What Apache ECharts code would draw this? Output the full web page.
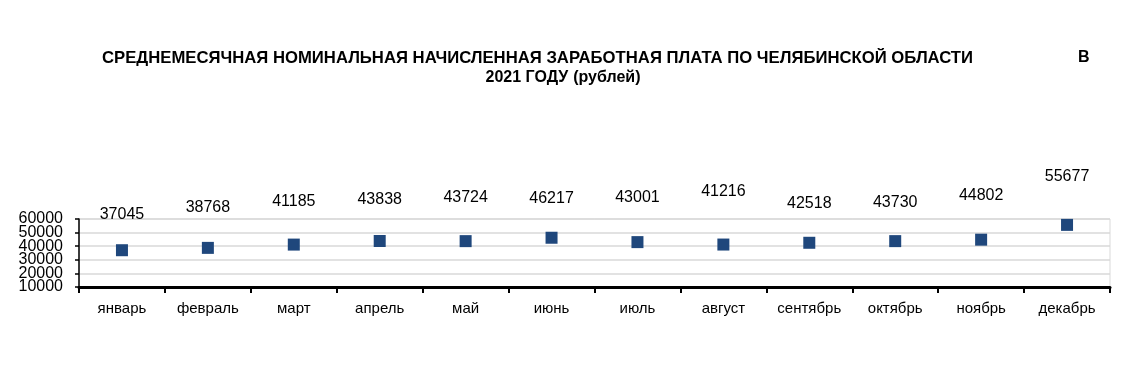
<!DOCTYPE html>
<html>
<head>
<meta charset="utf-8">
<script src="https://cdn.jsdelivr.net/npm/echarts@6/dist/echarts.min.js"></script>
<style>html,body{margin:0;padding:0;background:#fff}#c{width:1126px;height:376px}</style>
</head>
<body>
<div id="c"></div>
<script>
const months = ['январь','февраль','март','апрель','май','июнь','июль','август','сентябрь','октябрь','ноябрь','декабрь'];
const salary = [37045, 38768, 41185, 43838, 43724, 46217, 43001, 41216, 42518, 43730, 44802, 55677];
const yTicksA = [10000, 30000, 50000];
const yTicksB = [20000, 40000, 60000];
// label vertical offsets (style only, px above each marker centre)
const labelLift = [36, 40, 43, 41, 44, 39, 45, 53, 39, 39, 44, 48];

const font = 'Liberation Sans, Arial, sans-serif';
const yLabel = list => ({fontFamily: font, fontSize: 16, color: '#000', margin: 16,
  showMinLabel: true, showMaxLabel: true, hideOverlap: false,
  formatter: v => list.includes(v) ? String(v) : ''});
const chart = echarts.init(document.getElementById('c'), null, {renderer: 'canvas'});
chart.setOption({
  animation: false,
  backgroundColor: '#fff',
  title: [
    {text: 'СРЕДНЕМЕСЯЧНАЯ НОМИНАЛЬНАЯ НАЧИСЛЕННАЯ ЗАРАБОТНАЯ ПЛАТА ПО ЧЕЛЯБИНСКОЙ ОБЛАСТИ',
     left: 97, top: 45, textStyle: {fontFamily: font, fontSize: 16.7, fontWeight: 'bold', color: '#000'}},
    {text: 'В', left: 1073, top: 45, textStyle: {fontFamily: font, fontSize: 16, fontWeight: 'bold', color: '#000'}},
    {text: '{b|2021 ГОДУ} {n|(рублей)}', left: 'center', top: 64,
     textStyle: {rich: {
       b: {fontFamily: font, fontSize: 16, fontWeight: 'bold', color: '#000'},
       n: {fontFamily: font, fontSize: 16, color: '#000'}
     }}}
  ],
  grid: {left: 79, right: 16, top: 219, height: 68, show: true, borderColor: '#d9d9d9', borderWidth: 1},
  xAxis: {
    type: 'category', data: months, boundaryGap: true,
    axisLine: {lineStyle: {color: '#000', width: 3}},
    axisTick: {show: true, length: 6, lineStyle: {color: '#000', width: 2}},
    axisLabel: {fontFamily: font, fontSize: 15, color: '#000', margin: 14}
  },
  yAxis: [{
    type: 'value', min: 10000, max: 60000, interval: 10000, position: 'left',
    axisLine: {show: true, lineStyle: {color: '#000', width: 1.5}},
    axisTick: {show: true, length: 4, lineStyle: {color: '#000', width: 1.5}},
    axisLabel: yLabel(yTicksA),
    splitLine: {show: true, lineStyle: {color: '#d9d9d9', width: 1.5}}
  }, {
    type: 'value', min: 10000, max: 60000, interval: 10000, position: 'left', offset: 0,
    axisLine: {show: false}, axisTick: {show: false},
    axisLabel: yLabel(yTicksB),
    splitLine: {show: false}
  }],
  series: [{
    type: 'scatter',
    symbol: 'rect', symbolSize: 12,
    itemStyle: {color: '#1f477c', opacity: 1},
    data: salary.map((v, i) => ({
      value: v,
      label: {show: true, position: 'inside', offset: [0, -labelLift[i]],
        fontFamily: font, fontSize: 16, color: '#000', formatter: '{c}'}
    }))
  }]
});
</script>
</body>
</html>
